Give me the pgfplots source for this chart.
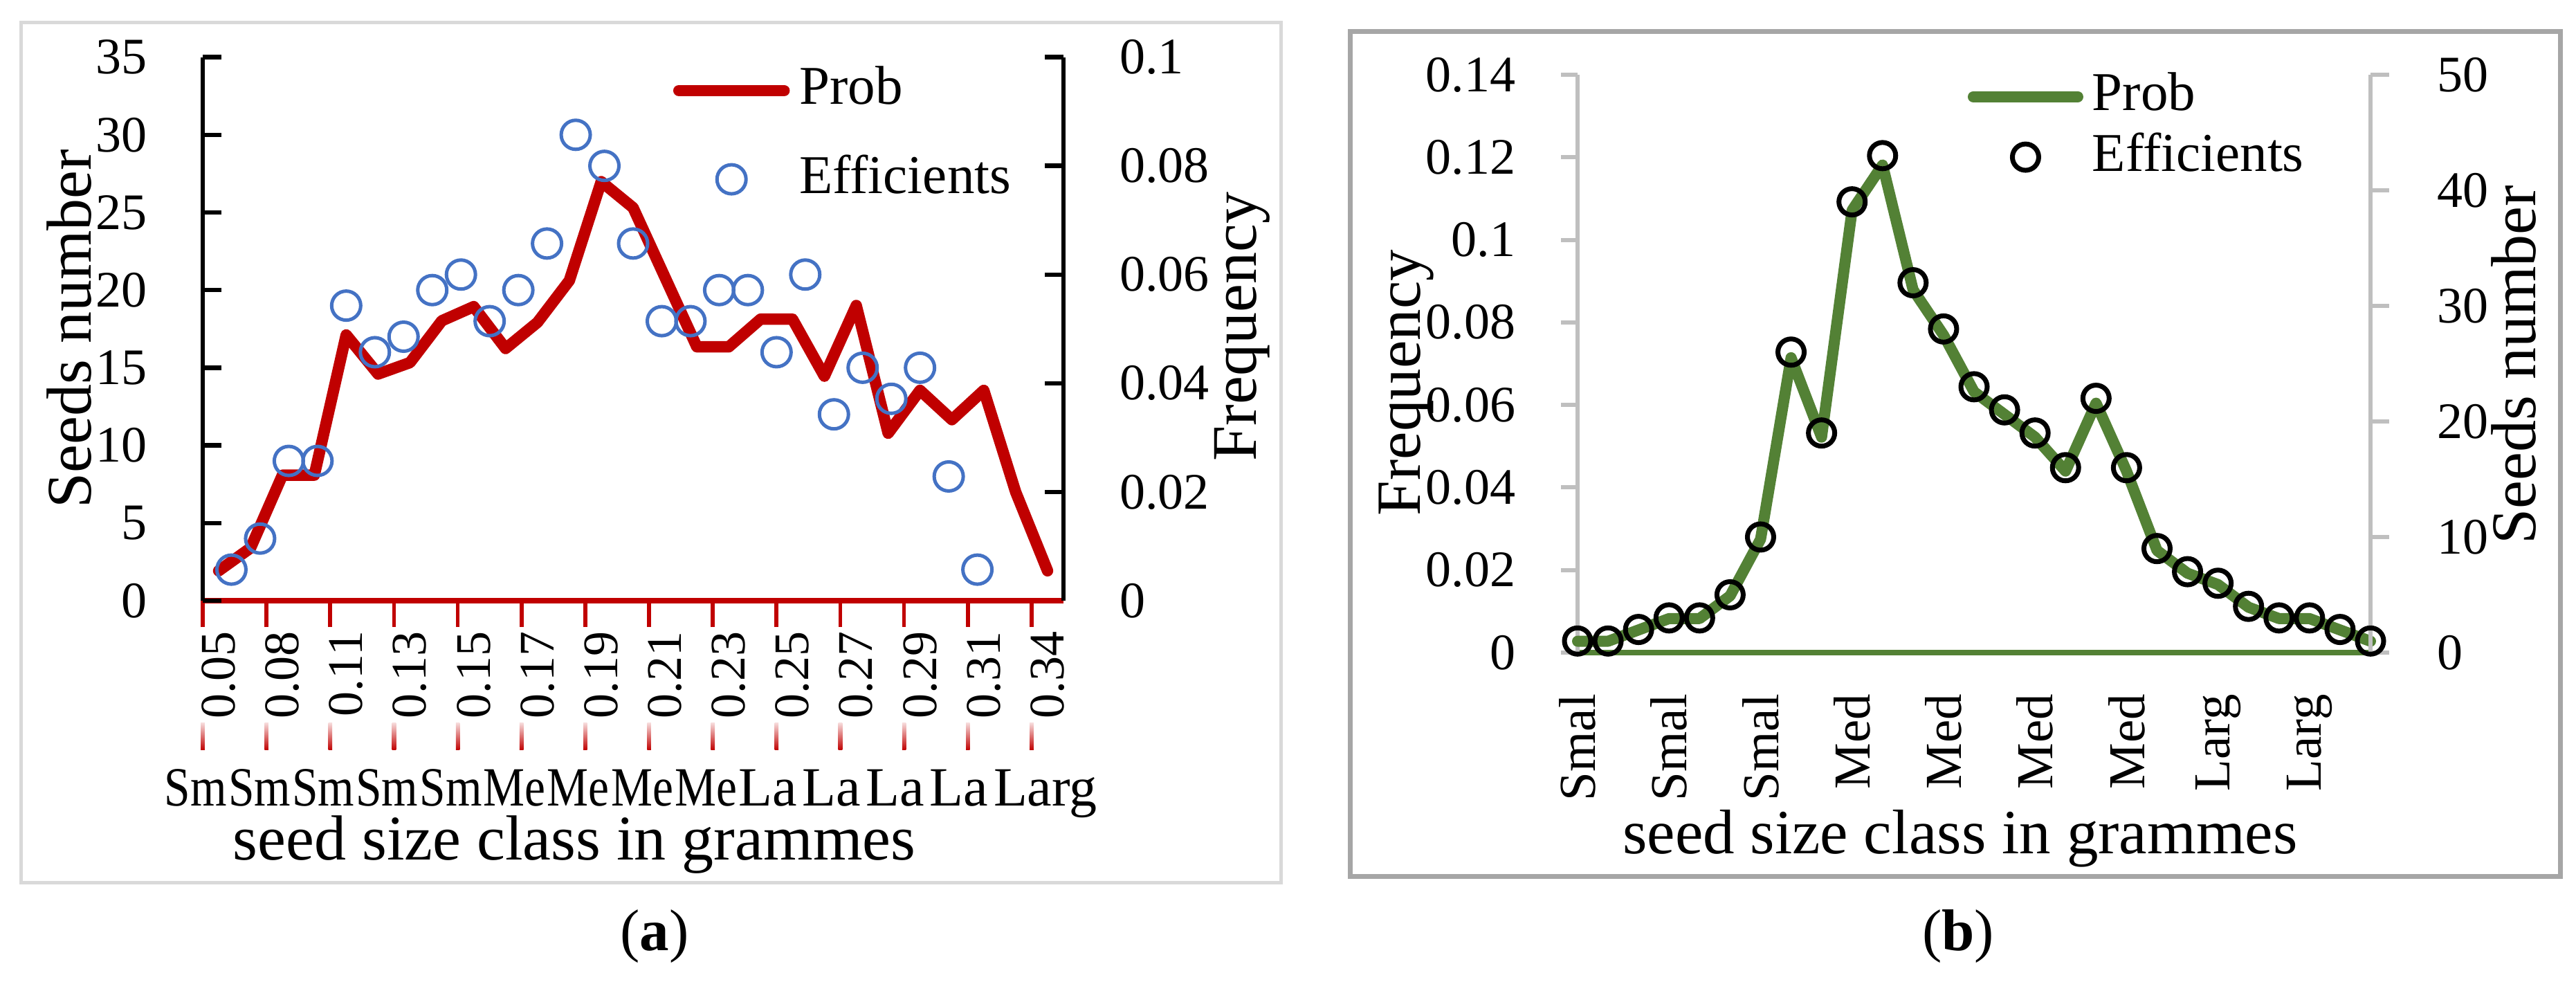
\documentclass[border=0pt]{standalone}
\usepackage{pgfplots}
\pgfplotsset{compat=1.18}
\usepackage{fontspec}
\setmainfont{Liberation Serif}
\newcommand{\fs}[1]{\fontsize{#1pt}{#1pt}\selectfont}
\definecolor{cred}{HTML}{C00000}
\definecolor{cblue}{HTML}{4472C4}
\definecolor{cgreen}{HTML}{538135}
\definecolor{cgray}{HTML}{BFBFBF}
\definecolor{fa}{HTML}{D9D9D9}
\definecolor{fb}{HTML}{A6A6A6}
\pgfplotsset{
  legline/.style={legend image code/.code={\draw[##1] (0pt,0pt) -- (#1,0pt);}},
  legmark/.style={legend image code/.code={\draw[##1] plot coordinates {(#1,0pt)};}},
}
\begin{document}
\begin{tikzpicture}
\path[use as bounding box] (0pt,0pt) rectangle (372.3pt,141.9pt);
% frames
\draw[line width=0.5pt, fa] (3.0pt,14.3pt) rectangle (185.1pt,138.6pt);
\draw[line width=0.7pt, fb] (195.1pt,15.2pt) rectangle (370.0pt,137.3pt);

% ================= panel (a) =================
% Prob (right axis, frequency)
\begin{axis}[
  at={(29.3pt,55.1pt)}, anchor=south west,
  scale only axis, width=124.4pt, height=78.54pt,
  xmin=0.5, xmax=27.5, ymin=0, ymax=0.1,
  clip=false,
  axis x line*=bottom, axis y line*=right,
  x axis line style={cred, line width=0.75pt, -},
  y axis line style={black, line width=0.65pt, -},
  xtick={1,3,...,27},
  xticklabels={0.05,0.08,0.11,0.13,0.15,0.17,0.19,0.21,0.23,0.25,0.27,0.29,0.31,0.34},
  xtick style={draw=none},
  x tick label style={yshift=-4.2pt, rotate=90, anchor=east, inner sep=0pt, font=\fs{7.2}},
  extra x ticks={0.5,2.5,...,26.5},
  extra x tick labels={},
  extra x tick style={xtick style={draw=cred, line width=0.57pt}, tick align=outside, major tick length=3.8pt},
  ytick={0,0.02,0.04,0.06,0.08,0.1},
  yticklabels={0,0.02,0.04,0.06,0.08,0.1},
  ytick align=inside, major tick length=2.7pt,
  ytick style={black, line width=0.65pt},
  y tick label style={anchor=west, inner sep=0pt, xshift=7.9pt, font=\fs{7.4}},
  ylabel={Frequency},
  ylabel style={at={(axis description cs:1.2074,0.504)}, anchor=center, font=\fs{9.2}},
  xlabel={seed size class in grammes},
  xlabel style={at={(axis description cs:0.4317,-0.4488)}, anchor=center, font=\fs{9.2}},
]
\addplot[cred, line width=1.65pt, line cap=round, line join=round] coordinates {
(1,0.0055) (2,0.0097) (3,0.0231) (4,0.0231) (5,0.0489) (6,0.0417) (7,0.0438)
(8,0.0515) (9,0.0541) (10,0.0464) (11,0.0512) (12,0.0589) (13,0.0771) (14,0.0723)
(15,0.0595) (16,0.0467) (17,0.0467) (18,0.0518) (19,0.0518) (20,0.0413) (21,0.0543)
(22,0.0308) (23,0.0387) (24,0.0333) (25,0.0387) (26,0.0200) (27,0.0055)};
\end{axis}
% Efficients (left axis, seeds number)
\begin{axis}[
  at={(29.3pt,55.1pt)}, anchor=south west,
  scale only axis, width=124.4pt, height=78.54pt,
  xmin=0.5, xmax=27.5, ymin=0, ymax=35,
  clip=false,
  axis x line=none, axis y line*=left,
  xtick=\empty,
  y axis line style={black, line width=0.65pt, -},
  ytick={0,5,10,15,20,25,30,35},
  yticklabels={0,5,10,15,20,25,30,35},
  ytick align=inside, major tick length=2.7pt,
  ytick style={black, line width=0.65pt},
  y tick label style={anchor=east, inner sep=0pt, xshift=-7.9pt, font=\fs{7.4}},
  ylabel={Seeds number},
  ylabel style={at={(axis description cs:-0.155,0.5004)}, anchor=center, font=\fs{9.2}},
  legend style={at={(axis description cs:0.5466,0.983)}, anchor=north west,
    draw=none, fill=none, inner sep=0pt, outer sep=0pt,
    nodes={inner sep=0pt}, row sep=5.8pt, column sep=1.4pt, font=\fs{7.9}},
  legend cell align=left,
]
\addlegendimage{cred, line width=1.65pt, line cap=round, legline=15.2pt}
\addlegendentry{Prob}
\addplot[only marks, mark=o, mark size=2.1pt, mark options={draw=cblue, line width=0.5pt},
  legmark=7.6pt] coordinates {
(1.4,2) (2.3,4) (3.2,9) (4.1,9) (5.0,19) (5.9,16) (6.8,17) (7.7,20) (8.6,21)
(9.5,18) (10.4,20) (11.3,23) (12.2,30) (13.1,28) (14.0,23) (14.9,18) (15.8,18)
(16.7,20) (17.6,20) (18.5,16) (19.4,21) (20.3,12) (21.2,15) (22.1,13) (23.0,15)
(23.9,8) (24.8,2)};
\addlegendentry{Efficients}
\end{axis}
% second category row of panel (a)
\foreach \k in {0,...,13}{
  \shade[top color=cred!15, bottom color=cred] ({29.3pt+9.215pt*\k-0.28pt},33.5pt) rectangle ({29.3pt+9.215pt*\k+0.28pt},37.4pt);
}
\foreach \k/\t/\s in {0/Sm/0.843,1/Sm/0.843,2/Sm/0.843,3/Sm/0.843,4/Sm/0.843,5/Me/0.843,6/Me/0.843,7/Me/0.843,8/Me/0.843,9/La/1,10/La/1,11/La/1,12/La/1}{
  \node[anchor=base west, inner sep=0pt, font=\fs{8}] at ({23.6pt+9.215pt*\k},25.4pt) {\scalebox{\s}[1]{\t}};
}
\node[anchor=base west, inner sep=0pt, font=\fs{8}] at (143.4pt,25.4pt) {Larg};
\node[anchor=base, inner sep=0pt, font=\fs{8.5}] at (94.6pt,4.5pt) {(\textbf{a})};

% ================= panel (b) =================
\begin{axis}[
  at={(228.0pt,47.6pt)}, anchor=south west,
  scale only axis, width=114.6pt, height=83.5pt,
  xmin=1, xmax=27, ymin=0, ymax=0.14,
  clip=false,
  axis x line*=bottom, axis y line*=left,
  x axis line style={cgreen, line width=0.75pt, -},
  y axis line style={cgray, line width=0.6pt, -},
  xtick={1,4,7,10,13,16,19,22,25},
  xticklabels={Smal,Smal,Smal,Med,Med,Med,Med,Larg,Larg},
  xtick style={draw=none},
  x tick label style={yshift=-5.8pt, rotate=90, anchor=east, inner sep=0pt, font=\fs{7.5}},
  ytick={0,0.02,0.04,0.06,0.08,0.1,0.12,0.14},
  yticklabels={0,0.02,0.04,0.06,0.08,0.1,0.12,0.14},
  ytick align=outside, major tick length=2.4pt,
  ytick style={cgray, line width=0.6pt},
  y tick label style={anchor=east, inner sep=0pt, xshift=-6.4pt, font=\fs{7.4}},
  ylabel={Frequency},
  ylabel style={at={(axis description cs:-0.2164,0.467)}, anchor=center, font=\fs{9.1}},
  xlabel={seed size class in grammes},
  xlabel style={at={(axis description cs:0.4825,-0.3216)}, anchor=center, font=\fs{9.1}},
]
\addplot[cgreen, line width=1.6pt, line cap=round, line join=round] coordinates {
(1,0.00275) (2,0.00275) (3,0.00549) (4,0.00824) (5,0.00824) (6,0.01374) (7,0.02747)
(8,0.07143) (9,0.05220) (10,0.10714) (11,0.11813) (12,0.08791) (13,0.07692) (14,0.06319)
(15,0.05769) (16,0.05220) (17,0.04396) (18,0.06044) (19,0.04396) (20,0.02473) (21,0.01923)
(22,0.01648) (23,0.01099) (24,0.00824) (25,0.00824) (26,0.00549) (27,0.00275)};
\end{axis}
\begin{axis}[
  at={(228.0pt,47.6pt)}, anchor=south west,
  scale only axis, width=114.6pt, height=83.5pt,
  xmin=1, xmax=27, ymin=0, ymax=50,
  clip=false,
  axis x line=none, axis y line*=right,
  xtick=\empty,
  y axis line style={cgray, line width=0.6pt, -},
  ytick={0,10,20,30,40,50},
  yticklabels={0,10,20,30,40,50},
  ytick align=outside, major tick length=2.7pt,
  ytick style={cgray, line width=0.6pt},
  y tick label style={anchor=west, inner sep=0pt, xshift=6.7pt, font=\fs{7.4}},
  ylabel={Seeds number},
  ylabel style={at={(axis description cs:1.1806,0.498)}, anchor=center, font=\fs{9.2}},
  legend style={at={(axis description cs:0.4921,1.0036)}, anchor=north west,
    draw=none, fill=none, inner sep=0pt, outer sep=0pt,
    nodes={inner sep=0pt}, row sep=1.7pt, column sep=1.3pt, font=\fs{7.9}},
  legend cell align=left,
]
\addlegendimage{cgreen, line width=1.6pt, line cap=round, legline=15.1pt}
\addlegendentry{Prob}
\addplot[only marks, mark=o, mark size=1.9pt, mark options={draw=black, line width=0.7pt},
  legmark=7.55pt] coordinates {
(1,1) (2,1) (3,2) (4,3) (5,3) (6,5) (7,10) (8,26) (9,19) (10,39) (11,43) (12,32)
(13,28) (14,23) (15,21) (16,19) (17,16) (18,22) (19,16) (20,9) (21,7) (22,6) (23,4)
(24,3) (25,3) (26,2) (27,1)};
\addlegendentry{Efficients}
\end{axis}
\node[anchor=base, inner sep=0pt, font=\fs{8.5}] at (283.0pt,4.5pt) {(\textbf{b})};
\end{tikzpicture}
\end{document}
